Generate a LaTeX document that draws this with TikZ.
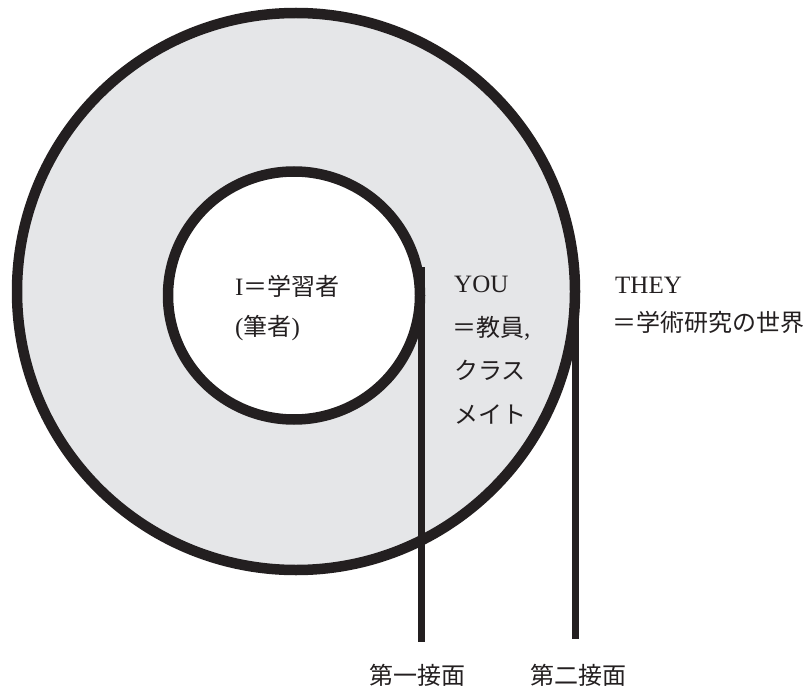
\documentclass[tikz,border=0pt]{standalone}
\usepackage{fontspec}
\setmainfont{Liberation Serif}
\newfontfamily\jp[Scale=0.96]{Noto Sans CJK JP}
\definecolor{ink}{HTML}{231F20}
\definecolor{ring}{HTML}{E5E6E8}
\begin{document}
\begin{tikzpicture}[x=1pt,y=-1pt,
  ringline/.style={draw=ink,line width=10.5pt},
  tangent/.style={draw=ink,line width=7pt},
  lbl/.style={inner sep=0pt,anchor=base west,text=ink,font=\fontsize{25}{29}\selectfont},
  lblc/.style={inner sep=0pt,anchor=base,text=ink,font=\fontsize{25}{29}\selectfont}]
\useasboundingbox (0,0) rectangle (811,687);
% rings
\fill[ring] (296,291.5) ellipse [x radius=279,y radius=278.5];
\fill[white] (294,295.5) ellipse [x radius=126,y radius=124];
\draw[ringline] (296,291.5) ellipse [x radius=279,y radius=278.5];
\draw[ringline] (294,295.5) ellipse [x radius=126,y radius=124];
% tangent lines
\coordinate (t1top) at (421,267);
\coordinate (t1bot) at (421,642);
\coordinate (t2top) at (575,300);
\coordinate (t2bot) at (575,639);
\draw[tangent] (t1top) -- (t1bot);
\draw[tangent] (t2top) -- (t2bot);
% labels
\node[lbl] (i1) at (235,295) {I{\jp ＝学習者}};
\node[lbl] (i2) at (235,335) {({\jp 筆者})};
\node[lbl] (y1) at (454,292) {YOU};
\node[lbl] (y2) at (452,336) {{\jp ＝教員},};
\node[lbl] (y3) at (454,379) {{\jp クラス}};
\node[lbl] (y4) at (454,423) {{\jp メイト}};
\node[lbl] (th1) at (615,293) {THEY};
\node[lbl] (th2) at (612,331) {{\jp ＝学術研究の世界}};
\node[lblc] (f1) at (417.5,684) {{\jp 第一接面}};
\node[lblc] (f2) at (578.5,684) {{\jp 第二接面}};
\end{tikzpicture}
\end{document}
